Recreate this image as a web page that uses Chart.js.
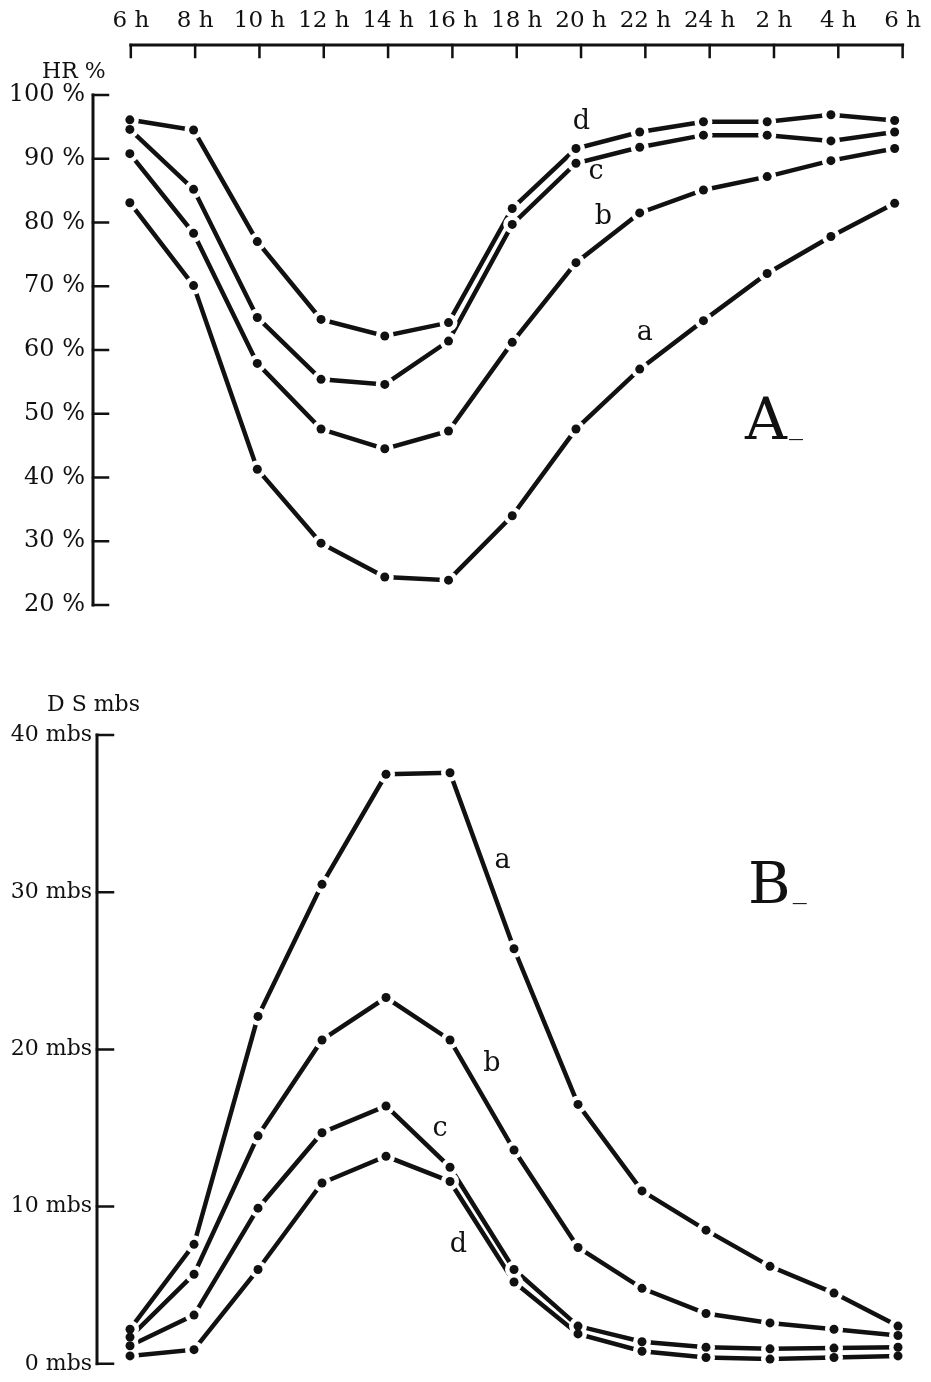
<!DOCTYPE html>
<html>
<head>
<meta charset="utf-8">
<title>HR % / D S mbs</title>
<script src="https://cdn.jsdelivr.net/npm/chart.js@4.4.1/dist/chart.umd.min.js"></script>
<style>
  html, body { margin: 0; padding: 0; background: #fff; }
  #page { position: relative; width: 931px; height: 1382px; overflow: hidden; font-family: 'DejaVu Serif', serif; color: #111; }
  canvas { position: absolute; left: 0; }
  #chartA { top: 0; }
  #chartB { top: 650px; }
  .note { position: absolute; line-height: 1; white-space: nowrap; }
  .unit { font-size: 22px; }
  .panel { font-size: 58px; }
  .panel span { font-size: 28px; position: relative; top: -5px; margin-left: 2px; }
</style>
</head>
<body>
<div id="page">
  <canvas id="chartA" width="931" height="650"></canvas>
  <canvas id="chartB" width="931" height="732"></canvas>
  <div class="note unit" style="left:42px; top:60px;">HR %</div>
  <div class="note unit" style="left:47px; top:693px;">D S mbs</div>
  <div class="note panel" style="left:745px; top:390px;">A<span>_</span></div>
  <div class="note panel" style="left:748px; top:854px;">B<span>_</span></div>
</div>
<script>
// hours of the day, 6 h to 6 h next morning
const hours = ['6 h', '8 h', '10 h', '12 h', '14 h', '16 h', '18 h', '20 h', '22 h', '24 h', '2 h', '4 h', '6 h'];

// relative humidity, %
const hrTicks = [20, 30, 40, 50, 60, 70, 80, 90, 100];
const hrA = [83.1, 70.1, 41.3, 29.7, 24.4, 23.9, 34.0, 47.6, 57.0, 64.6, 72.0, 77.8, 83.0];
const hrB = [90.8, 78.3, 57.9, 47.6, 44.5, 47.3, 61.2, 73.7, 81.5, 85.1, 87.2, 89.7, 91.6];
const hrC = [94.6, 85.2, 65.1, 55.4, 54.6, 61.4, 79.7, 89.3, 91.8, 93.7, 93.7, 92.8, 94.2];
const hrD = [96.1, 94.5, 77.0, 64.8, 62.2, 64.3, 82.2, 91.6, 94.2, 95.8, 95.8, 96.9, 96.0];

// saturation deficit, mbs
const dsTicks = [0, 10, 20, 30, 40];
const dsA = [2.2, 7.6, 22.1, 30.5, 37.5, 37.6, 26.4, 16.5, 11.0, 8.5, 6.2, 4.5, 2.4];
const dsB = [1.7, 5.7, 14.5, 20.6, 23.3, 20.6, 13.6, 7.4, 4.8, 3.2, 2.6, 2.2, 1.8];
const dsC = [1.15, 3.1, 9.9, 14.7, 16.4, 12.5, 6.0, 2.4, 1.4, 1.05, 0.95, 1.0, 1.05];
const dsD = [0.5, 0.9, 6.0, 11.5, 13.2, 11.6, 5.2, 1.9, 0.8, 0.4, 0.3, 0.4, 0.5];

const ink = '#111';
Chart.defaults.font.family = "'DejaVu Serif', serif";
Chart.defaults.font.size = 22;
Chart.defaults.color = ink;

const pts = vals => vals.map((v, i) => ({ x: i, y: v }));

// every curve three times: the line, a white halo round each point, the black dot
function curves(series) {
  const sets = [];
  series.forEach(vals => {
    sets.push({ data: pts(vals), xAxisID: 'xd', borderColor: ink, borderWidth: 4.5, pointRadius: 0, order: 3, clip: false });
    sets.push({ data: pts(vals), xAxisID: 'xd', showLine: false, pointRadius: 9, pointBorderWidth: 0, pointBackgroundColor: '#fff', order: 2, clip: false });
    sets.push({ data: pts(vals), xAxisID: 'xd', showLine: false, pointRadius: 4.5, pointBorderWidth: 0, pointBackgroundColor: ink, order: 1, clip: false });
  });
  return sets;
}

// axis lines with the tick marks turned inwards
const axisMarks = {
  id: 'axisMarks',
  afterDraw(chart, args, opts) {
    const ctx = chart.ctx;
    const area = chart.chartArea;
    ctx.save();
    ctx.strokeStyle = ink;
    ctx.lineCap = 'square';
    opts.axes.forEach(a => {
      const s = chart.scales[a.id];
      const px = s.ticks.map(t => s.getPixelForValue(t.value));
      const lo = Math.min(...px), hi = Math.max(...px);
      ctx.lineWidth = 3;
      ctx.beginPath();
      if (s.isHorizontal()) {
        ctx.moveTo(lo, area.top); ctx.lineTo(hi, area.top);
      } else {
        ctx.moveTo(area.left, lo); ctx.lineTo(area.left, hi);
      }
      ctx.stroke();
      ctx.lineWidth = 2.5;
      ctx.beginPath();
      px.forEach(p => {
        if (s.isHorizontal()) {
          ctx.moveTo(p, area.top); ctx.lineTo(p, area.top + a.len);
        } else {
          ctx.moveTo(area.left, p); ctx.lineTo(area.left + a.len, p);
        }
      });
      ctx.stroke();
    });
    ctx.restore();
  }
};

// curve letters a-d, placed next to one point of their curve
const seriesLetters = {
  id: 'seriesLetters',
  afterDatasetsDraw(chart, args, opts) {
    const { ctx, scales } = chart;
    ctx.save();
    ctx.fillStyle = ink;
    ctx.font = "27px 'DejaVu Serif', serif";
    ctx.textAlign = 'center';
    ctx.textBaseline = 'middle';
    opts.items.forEach(it => {
      const x = scales.xd.getPixelForValue(it.index) + it.dx;
      const y = scales.y.getPixelForValue(it.values[it.index]) + it.dy;
      ctx.fillText(it.text, x, y);
    });
    ctx.restore();
  }
};

const flat = { grid: { display: false, drawTicks: false }, border: { display: false } };

new Chart(document.getElementById('chartA'), {
  type: 'line',
  data: { datasets: curves([hrA, hrB, hrC, hrD]) },
  options: {
    responsive: false,
    animation: false,
    layout: { padding: { top: 0, left: 0, right: 25, bottom: 45 } },
    plugins: {
      legend: { display: false },
      tooltip: { enabled: false },
      axisMarks: { axes: [{ id: 'x', len: 12 }, { id: 'y', len: 15 }] },
      seriesLetters: {
        items: [
          { text: 'd', values: hrD, index: 7, dx: 5.5, dy: -27 },
          { text: 'c', values: hrC, index: 7, dx: 20, dy: 9 },
          { text: 'b', values: hrB, index: 7, dx: 27.5, dy: -46 },
          { text: 'a', values: hrA, index: 8, dx: 5, dy: -36 }
        ]
      }
    },
    scales: {
      // hour ticks along the top
      x: {
        ...flat,
        type: 'linear', position: 'top', min: -0.588, max: 12,
        afterFit: s => { s.height = 45; },
        afterBuildTicks: s => { s.ticks = hours.map((h, i) => ({ value: i })); },
        ticks: { padding: 10, maxRotation: 0, autoSkip: false, font: { size: 23 }, callback: v => hours[v] }
      },
      // the points sit on this one
      xd: { type: 'linear', display: false, min: -0.578, max: 12.125 },
      y: {
        ...flat,
        type: 'linear', position: 'left', min: 20, max: 107.84,
        afterFit: s => { s.width = 93; },
        afterBuildTicks: s => { s.ticks = hrTicks.map(v => ({ value: v })); },
        ticks: { padding: 8, font: { size: 24 }, callback: v => v + ' %' }
      }
    }
  },
  plugins: [axisMarks, seriesLetters]
});

new Chart(document.getElementById('chartB'), {
  type: 'line',
  data: { datasets: curves([dsA, dsB, dsC, dsD]) },
  options: {
    responsive: false,
    animation: false,
    layout: { padding: { top: 85, left: 0, right: 25, bottom: 10 } },
    plugins: {
      legend: { display: false },
      tooltip: { enabled: false },
      axisMarks: { axes: [{ id: 'y', len: 16 }] },
      seriesLetters: {
        items: [
          { text: 'a', values: dsA, index: 6, dx: -11.5, dy: -88 },
          { text: 'b', values: dsB, index: 5, dx: 42, dy: 24 },
          { text: 'c', values: dsC, index: 4, dx: 54, dy: 23 },
          { text: 'd', values: dsD, index: 5, dx: 8.5, dy: 64 }
        ]
      }
    },
    scales: {
      xd: { type: 'linear', display: false, min: -0.516, max: 12.125 },
      y: {
        ...flat,
        type: 'linear', position: 'left', min: 0, max: 40,
        afterFit: s => { s.width = 97; },
        afterBuildTicks: s => { s.ticks = dsTicks.map(v => ({ value: v })); },
        ticks: { padding: 5, callback: v => v + ' mbs' }
      }
    }
  },
  plugins: [axisMarks, seriesLetters]
});
</script>
</body>
</html>
